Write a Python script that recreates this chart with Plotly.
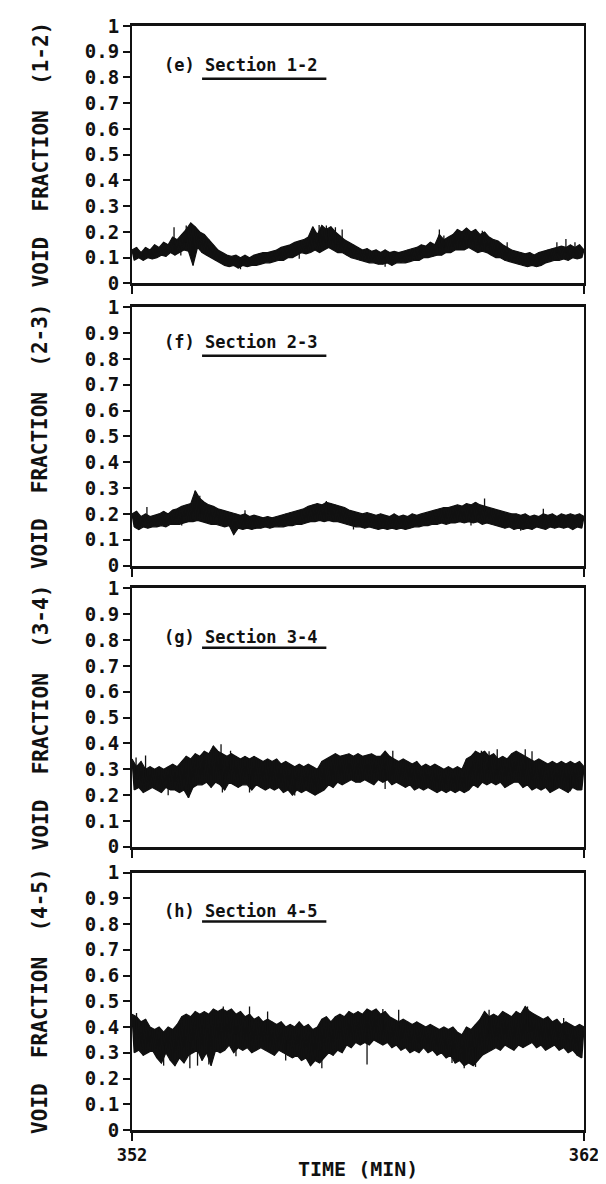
import numpy as np
import plotly.graph_objects as go

# ---------------- data ----------------
T_START, T_END, T_STEP = 352.0, 362.0, 0.05
TIME = np.round(np.arange(T_START, T_END + T_STEP / 2, T_STEP), 3)

VF_12 = [
    0.13,0.09,0.14,0.10,0.12,0.09,0.14,0.10,0.13,0.095,
    0.15,0.10,0.14,0.11,0.16,0.105,0.15,0.12,0.18,0.11,
    0.17,0.12,0.19,0.13,0.21,0.125,0.235,0.07,0.22,0.14,
    0.20,0.12,0.19,0.11,0.17,0.10,0.15,0.09,0.13,0.08,
    0.12,0.07,0.11,0.065,0.105,0.07,0.11,0.06,0.10,0.07,
    0.11,0.065,0.10,0.07,0.11,0.07,0.115,0.075,0.12,0.08,
    0.12,0.08,0.125,0.085,0.13,0.09,0.14,0.09,0.145,0.10,
    0.15,0.10,0.16,0.11,0.165,0.12,0.17,0.115,0.18,0.12,
    0.22,0.13,0.19,0.12,0.225,0.13,0.21,0.14,0.22,0.13,
    0.20,0.12,0.185,0.12,0.17,0.11,0.16,0.10,0.15,0.095,
    0.14,0.09,0.13,0.085,0.135,0.08,0.125,0.08,0.13,0.075,
    0.12,0.075,0.13,0.08,0.12,0.07,0.125,0.08,0.12,0.08,
    0.125,0.08,0.13,0.085,0.135,0.09,0.14,0.09,0.15,0.10,
    0.145,0.10,0.16,0.105,0.15,0.11,0.19,0.11,0.17,0.12,
    0.18,0.12,0.19,0.13,0.21,0.13,0.20,0.13,0.215,0.14,
    0.20,0.13,0.21,0.12,0.19,0.125,0.20,0.12,0.18,0.11,
    0.17,0.10,0.165,0.10,0.15,0.09,0.14,0.085,0.13,0.08,
    0.125,0.075,0.12,0.07,0.115,0.065,0.12,0.07,0.11,0.065,
    0.12,0.07,0.125,0.08,0.13,0.085,0.135,0.09,0.14,0.09,
    0.145,0.095,0.14,0.09,0.15,0.10,0.14,0.095,0.15,0.10,
    0.13,
]

VF_23 = [
    0.20,0.15,0.21,0.14,0.19,0.15,0.20,0.145,0.19,0.15,
    0.195,0.15,0.20,0.155,0.21,0.15,0.20,0.16,0.215,0.16,
    0.22,0.16,0.23,0.165,0.235,0.17,0.24,0.17,0.29,0.175,
    0.26,0.17,0.245,0.165,0.235,0.16,0.23,0.16,0.22,0.155,
    0.215,0.15,0.21,0.155,0.205,0.12,0.20,0.145,0.195,0.14,
    0.20,0.145,0.19,0.14,0.195,0.145,0.19,0.145,0.185,0.15,
    0.19,0.145,0.185,0.15,0.19,0.15,0.195,0.15,0.20,0.155,
    0.205,0.155,0.21,0.16,0.215,0.16,0.22,0.165,0.23,0.17,
    0.235,0.17,0.24,0.175,0.235,0.17,0.245,0.175,0.24,0.17,
    0.235,0.17,0.23,0.165,0.225,0.16,0.215,0.155,0.21,0.15,
    0.205,0.15,0.20,0.145,0.205,0.15,0.20,0.145,0.195,0.14,
    0.20,0.145,0.195,0.14,0.19,0.145,0.20,0.14,0.19,0.145,
    0.195,0.14,0.19,0.145,0.20,0.15,0.195,0.15,0.20,0.155,
    0.205,0.155,0.21,0.16,0.215,0.16,0.22,0.165,0.225,0.16,
    0.225,0.165,0.23,0.165,0.235,0.17,0.23,0.165,0.24,0.17,
    0.235,0.165,0.245,0.17,0.235,0.16,0.23,0.165,0.225,0.16,
    0.22,0.155,0.215,0.15,0.21,0.145,0.205,0.15,0.20,0.14,
    0.20,0.145,0.195,0.14,0.20,0.145,0.19,0.14,0.195,0.15,
    0.19,0.145,0.20,0.14,0.195,0.15,0.20,0.145,0.19,0.15,
    0.20,0.145,0.195,0.15,0.20,0.14,0.195,0.15,0.20,0.145,
    0.19,
]

VF_34 = [
    0.34,0.22,0.31,0.23,0.33,0.21,0.30,0.22,0.31,0.23,
    0.30,0.22,0.31,0.21,0.30,0.23,0.31,0.22,0.32,0.22,
    0.31,0.21,0.33,0.22,0.35,0.19,0.34,0.23,0.36,0.24,
    0.35,0.24,0.37,0.25,0.36,0.23,0.39,0.25,0.37,0.24,
    0.36,0.22,0.35,0.25,0.36,0.24,0.35,0.23,0.34,0.24,
    0.35,0.24,0.34,0.22,0.35,0.24,0.34,0.23,0.33,0.22,
    0.34,0.23,0.33,0.22,0.34,0.23,0.32,0.21,0.33,0.22,
    0.32,0.20,0.31,0.22,0.32,0.21,0.31,0.22,0.32,0.21,
    0.31,0.20,0.30,0.21,0.33,0.22,0.34,0.24,0.35,0.23,
    0.36,0.25,0.35,0.24,0.355,0.25,0.36,0.26,0.35,0.25,
    0.36,0.25,0.35,0.26,0.355,0.25,0.36,0.24,0.35,0.26,
    0.35,0.25,0.37,0.26,0.35,0.24,0.34,0.25,0.33,0.24,
    0.34,0.23,0.33,0.24,0.32,0.22,0.33,0.23,0.31,0.22,
    0.32,0.23,0.31,0.22,0.32,0.21,0.31,0.22,0.30,0.21,
    0.31,0.22,0.30,0.21,0.31,0.22,0.30,0.21,0.34,0.22,
    0.35,0.24,0.37,0.23,0.36,0.25,0.37,0.24,0.35,0.25,
    0.36,0.24,0.34,0.25,0.35,0.23,0.34,0.24,0.36,0.25,
    0.37,0.25,0.36,0.23,0.35,0.24,0.34,0.22,0.33,0.23,
    0.34,0.22,0.33,0.23,0.32,0.21,0.33,0.22,0.32,0.23,
    0.33,0.22,0.32,0.21,0.33,0.23,0.32,0.22,0.33,0.22,
    0.31,
]

VF_45 = [
    0.45,0.30,0.44,0.31,0.42,0.29,0.43,0.30,0.40,0.31,
    0.39,0.28,0.40,0.26,0.38,0.30,0.40,0.27,0.39,0.25,
    0.41,0.28,0.44,0.26,0.45,0.29,0.44,0.30,0.46,0.31,
    0.45,0.27,0.46,0.30,0.45,0.25,0.47,0.31,0.46,0.30,
    0.47,0.31,0.46,0.33,0.47,0.30,0.45,0.32,0.46,0.31,
    0.44,0.32,0.45,0.30,0.43,0.31,0.44,0.32,0.42,0.31,
    0.43,0.30,0.42,0.29,0.41,0.31,0.42,0.30,0.40,0.29,
    0.41,0.28,0.40,0.29,0.42,0.27,0.40,0.28,0.41,0.25,
    0.39,0.27,0.40,0.26,0.43,0.28,0.44,0.30,0.42,0.29,
    0.44,0.31,0.45,0.30,0.44,0.33,0.46,0.32,0.45,0.34,
    0.46,0.33,0.45,0.34,0.47,0.33,0.46,0.35,0.47,0.34,
    0.45,0.33,0.46,0.34,0.44,0.32,0.43,0.33,0.42,0.31,
    0.43,0.32,0.42,0.30,0.41,0.31,0.42,0.30,0.41,0.32,
    0.40,0.30,0.41,0.31,0.40,0.29,0.39,0.30,0.40,0.28,
    0.39,0.29,0.40,0.26,0.38,0.27,0.37,0.25,0.40,0.26,
    0.39,0.25,0.41,0.27,0.43,0.29,0.46,0.30,0.44,0.31,
    0.45,0.32,0.44,0.31,0.46,0.33,0.45,0.32,0.44,0.31,
    0.46,0.33,0.45,0.32,0.48,0.33,0.46,0.34,0.45,0.32,
    0.44,0.33,0.43,0.31,0.44,0.32,0.42,0.33,0.43,0.31,
    0.41,0.32,0.42,0.30,0.41,0.31,0.40,0.29,0.41,0.28,
    0.40,
]

# isolated spikes in each record: (time, from, to)
SPIKES_12 = [
    (352.93, 0.15, 0.218), (353.08, 0.14, 0.109), (353.20, 0.16, 0.225),
    (355.70, 0.12, 0.096), (356.14, 0.16, 0.227), (356.30, 0.16, 0.225),
    (356.50, 0.15, 0.218), (356.65, 0.14, 0.21), (358.40, 0.12, 0.147),
    (358.80, 0.14, 0.21), (358.90, 0.14, 0.186), (359.75, 0.15, 0.205),
    (360.30, 0.13, 0.16), (361.40, 0.12, 0.16), (361.60, 0.12, 0.173),
    (361.80, 0.12, 0.16), (354.40, 0.09, 0.055), (357.60, 0.10, 0.065),
]
SPIKES_23 = [
    (352.33, 0.18, 0.227), (353.50, 0.20, 0.27), (353.10, 0.19, 0.155),
    (354.50, 0.17, 0.214), (355.70, 0.18, 0.21), (356.30, 0.20, 0.25),
    (357.45, 0.17, 0.142), (359.50, 0.18, 0.155), (359.80, 0.21, 0.26),
    (361.10, 0.18, 0.22), (356.90, 0.18, 0.14), (360.60, 0.17, 0.135),
]
SPIKES_34 = [
    (352.09, 0.28, 0.346), (352.30, 0.27, 0.353), (353.60, 0.30, 0.365),
    (353.97, 0.30, 0.397), (354.18, 0.30, 0.372), (354.00, 0.29, 0.21),
    (354.60, 0.28, 0.21), (355.60, 0.26, 0.199), (357.77, 0.30, 0.372),
    (357.60, 0.30, 0.224), (359.73, 0.30, 0.372), (359.90, 0.30, 0.37),
    (360.08, 0.30, 0.378), (360.70, 0.30, 0.378), (360.85, 0.30, 0.37),
    (361.30, 0.28, 0.218), (361.70, 0.28, 0.215), (352.80, 0.27, 0.20),
]
SPIKES_45 = [
    (352.10, 0.37, 0.454), (352.70, 0.33, 0.25), (353.28, 0.34, 0.24),
    (353.45, 0.35, 0.25), (353.70, 0.36, 0.254), (354.02, 0.38, 0.48),
    (354.60, 0.38, 0.48), (354.30, 0.37, 0.286), (355.00, 0.37, 0.46),
    (356.20, 0.32, 0.24), (357.20, 0.38, 0.254), (357.55, 0.39, 0.47),
    (357.90, 0.39, 0.467), (359.08, 0.33, 0.26), (359.35, 0.32, 0.24),
    (359.60, 0.32, 0.245), (359.90, 0.37, 0.467), (360.75, 0.38, 0.48),
    (361.55, 0.37, 0.435), (355.40, 0.35, 0.27),
]

SERIES = [VF_12, VF_23, VF_34, VF_45]
SPIKES = [SPIKES_12, SPIKES_23, SPIKES_34, SPIKES_45]
Y_TITLES = ["VOID  FRACTION  (1-2)", "VOID  FRACTION  (2-3)",
            "VOID  FRACTION  (3-4)", "VOID  FRACTION  (4-5)"]
PANEL_TAGS = ["(e)", "(f)", "(g)", "(h)"]
PANEL_NAMES = ["Section 1-2", "Section 2-3", "Section 3-4", "Section 4-5"]
Y_TICKVALS = [0, 0.1, 0.2, 0.3, 0.4, 0.5, 0.6, 0.7, 0.8, 0.9, 1]
Y_TICKTEXT = ["0", "0.1", "0.2", "0.3", "0.4", "0.5", "0.6", "0.7", "0.8", "0.9", "1"]
X_TICKVALS = [352, 362]
X_TICKTEXT = ["352", "362"]
X_TITLE = "TIME (MIN)"

# ---------------- layout / style ----------------
# the page body has an 8px default margin, so the figure is drawn 8px in
OFF = 8
W, H = 606 - OFF, 1184 - OFF
PLOT_L, PLOT_R, PLOT_T, PLOT_B = 132, 587, 15, 1130      # target page pixels
M_L, M_R = PLOT_L - OFF, W - (PLOT_R - OFF)
M_T, M_B = PLOT_T - OFF, H - (PLOT_B - OFF)
PLOT_W, PLOT_H = PLOT_R - PLOT_L, PLOT_B - PLOT_T
DOMAINS = [[0.7668, 1.0], [0.5112, 0.7453], [0.2565, 0.4906], [0.0, 0.2332]]
LABEL_Y = [0.85, 0.865, 0.81, 0.85]
ULINE_Y = [0.795, 0.812, 0.77, 0.81]

MONO = "DejaVu Sans Mono"
INK = "#111111"

fig = go.Figure()
annotations = []
shapes = []

for i, vals in enumerate(SERIES):
    n = i + 1
    xa = "x" if n == 1 else f"x{n}"
    ya = "y" if n == 1 else f"y{n}"
    vals = np.asarray(vals)
    # upper and lower excursions of the noisy trace, filled as a solid band
    fig.add_trace(go.Scatter(
        x=TIME[0::2], y=vals[0::2], xaxis=xa, yaxis=ya, mode="lines",
        line=dict(color=INK, width=1.2), showlegend=False, hoverinfo="skip",
    ))
    fig.add_trace(go.Scatter(
        x=TIME[1::2], y=vals[1::2], xaxis=xa, yaxis=ya, mode="lines",
        line=dict(color=INK, width=1.2), fill="tonexty", fillcolor=INK,
        showlegend=False, hoverinfo="skip",
    ))
    # the raw trace itself, for the ragged edges
    fig.add_trace(go.Scatter(
        x=TIME, y=vals, xaxis=xa, yaxis=ya, mode="lines",
        line=dict(color=INK, width=1.4), showlegend=False, hoverinfo="skip",
    ))
    # isolated spikes
    sx, sy = [], []
    for t, a, b in SPIKES[i]:
        sx += [t, t, None]
        sy += [a, b, None]
    fig.add_trace(go.Scatter(
        x=sx, y=sy, xaxis=xa, yaxis=ya, mode="lines",
        line=dict(color=INK, width=1.3), showlegend=False, hoverinfo="skip",
    ))
    xkey = "xaxis" if n == 1 else f"xaxis{n}"
    ykey = "yaxis" if n == 1 else f"yaxis{n}"
    fig.layout[xkey] = dict(
        domain=[0, 1], anchor=ya, range=[T_START, T_END],
        showgrid=False, zeroline=False, showline=True, mirror=True,
        linecolor=INK, linewidth=3,
        ticks="outside", ticklen=8, tickwidth=2, tickcolor=INK,
        tickvals=X_TICKVALS, ticktext=X_TICKTEXT,
        showticklabels=(n == 4),
        tickfont=dict(family=MONO, size=17, color=INK, weight="bold"),
    )
    fig.layout[ykey] = dict(
        domain=DOMAINS[i], anchor=xa, range=[0, 1],
        showgrid=False, zeroline=False, showline=True, mirror=True,
        linecolor=INK, linewidth=2.2,
        ticks="outside", ticklen=7, tickwidth=2, tickcolor=INK,
        tickvals=Y_TICKVALS, ticktext=Y_TICKTEXT,
        tickfont=dict(family=MONO, size=19, color=INK, weight="bold"),
    )
    # rotated y-axis title
    annotations.append(dict(
        text=Y_TITLES[i], textangle=-90, showarrow=False,
        xref="paper", x=-(PLOT_L - 40) / PLOT_W, xanchor="center",
        yref=f"{ya} domain", y=0.5, yanchor="middle",
        font=dict(family=MONO, size=21, color=INK, weight="bold"),
    ))
    # panel label
    annotations.append(dict(
        text=f"{PANEL_TAGS[i]} {PANEL_NAMES[i]}", showarrow=False,
        xref=f"{xa} domain", x=0.066, xanchor="left",
        yref=f"{ya} domain", y=LABEL_Y[i], yanchor="middle",
        font=dict(family=MONO, size=17, color=INK, weight="bold"),
    ))
    shapes.append(dict(
        type="line", xref=f"{xa} domain", yref=f"{ya} domain",
        x0=0.155, x1=0.43, y0=ULINE_Y[i], y1=ULINE_Y[i],
        line=dict(color=INK, width=2.5),
    ))

annotations.append(dict(
    text=X_TITLE, showarrow=False,
    xref="x4 domain", x=0.5, xanchor="center",
    yref="paper", y=-(1169 - PLOT_B) / PLOT_H, yanchor="middle",
    font=dict(family=MONO, size=20, color=INK, weight="bold"),
))

fig.update_layout(
    width=W, height=H,
    margin=dict(l=M_L, r=M_R, t=M_T, b=M_B, pad=0),
    paper_bgcolor="white", plot_bgcolor="white",
    annotations=annotations, shapes=shapes, showlegend=False,
)

fig.write_html("out.html")
